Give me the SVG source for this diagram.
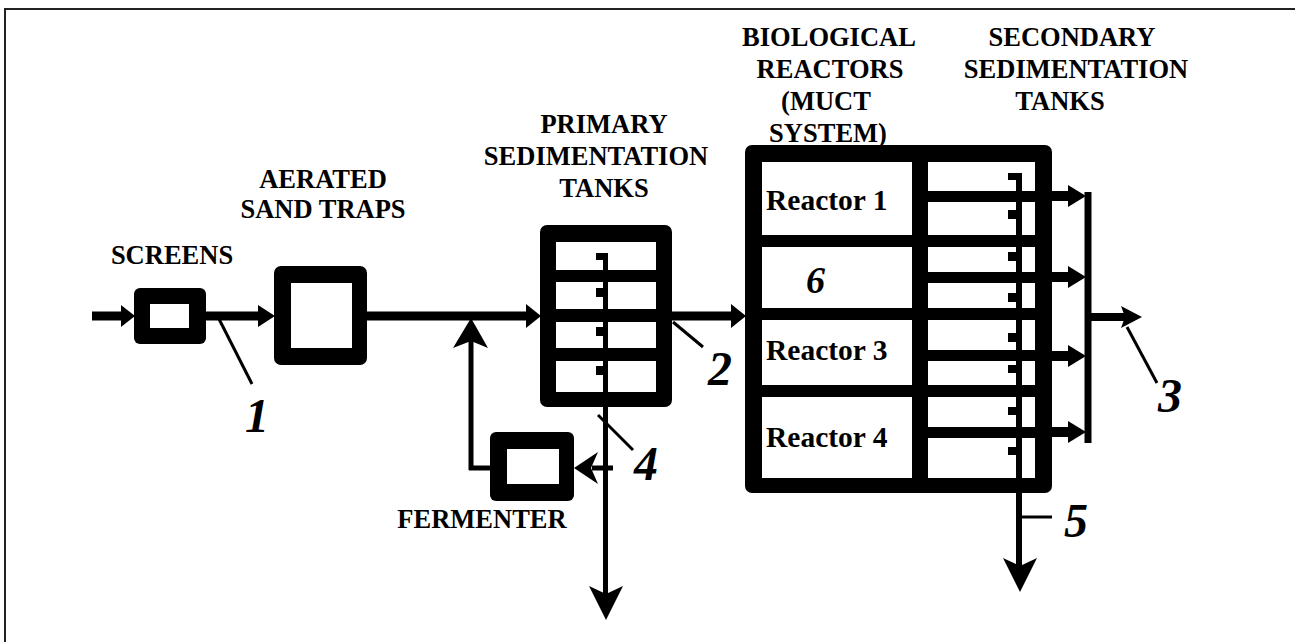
<svg xmlns="http://www.w3.org/2000/svg" width="1295" height="642" viewBox="0 0 1295 642">
<style>
.lbl{font-family:"Liberation Serif","Times New Roman",serif;font-weight:bold;font-size:26.5px;fill:#000;text-anchor:middle}
.rx{font-family:"Liberation Serif","Times New Roman",serif;font-weight:bold;font-size:29.5px;fill:#000}
.num{font-family:"Liberation Serif","Times New Roman",serif;font-weight:bold;font-style:italic;font-size:48px;fill:#000}
.blk{fill:#000}
.wht{fill:#fff}
.ln{stroke:#000;fill:none}
</style>
<rect width="1295" height="642" fill="#fff"/>
<path d="M5,642 V9 H1295" fill="none" stroke="#222" stroke-width="2"/>

<g id="screens">
<rect class="blk" x="134" y="288" width="72" height="56" rx="6"/>
<rect class="wht" x="150" y="304" width="39" height="24"/>
<text class="lbl" x="172" y="264">SCREENS</text>
</g>

<g id="sand-traps">
<rect class="blk" x="274" y="266" width="93" height="99" rx="7"/>
<rect class="wht" x="291" y="283" width="61" height="65"/>
<text class="lbl" x="323" y="188">AERATED</text>
<text class="lbl" x="323" y="218">SAND TRAPS</text>
</g>

<g id="primary-sedimentation">
<rect class="blk" x="540" y="225" width="132" height="182" rx="7"/>
<rect class="wht" x="556" y="242" width="100" height="28"/>
<rect class="wht" x="556" y="282" width="100" height="27"/>
<rect class="wht" x="556" y="322" width="100" height="26"/>
<rect class="wht" x="556" y="361" width="100" height="31"/>
<rect class="blk" x="603" y="253" width="5" height="154"/>
<rect class="blk" x="596" y="253" width="8" height="7"/>
<rect class="blk" x="596" y="288" width="8" height="9"/>
<rect class="blk" x="596" y="327" width="8" height="9"/>
<rect class="blk" x="596" y="366" width="8" height="9"/>
<text class="lbl" x="604" y="133">PRIMARY</text>
<text class="lbl" x="596" y="165">SEDIMENTATION</text>
<text class="lbl" x="604" y="197">TANKS</text>
</g>

<g id="fermenter">
<rect class="blk" x="490" y="432" width="84" height="69" rx="6"/>
<rect class="wht" x="507" y="449" width="52" height="35"/>
<text class="lbl" x="482" y="528">FERMENTER</text>
</g>

<g id="biological-reactors">
<rect class="blk" x="745" y="145" width="307" height="348" rx="7"/>
<rect class="wht" x="762" y="162" width="150" height="73"/>
<rect class="wht" x="762" y="247" width="150" height="61"/>
<rect class="wht" x="762" y="320" width="150" height="65"/>
<rect class="wht" x="762" y="397" width="150" height="81"/>
<text class="rx" x="766" y="210">Reactor 1</text>
<text class="num" x="806" y="293" style="font-size:38px">6</text>
<text class="rx" x="766" y="360">Reactor 3</text>
<text class="rx" x="766" y="447">Reactor 4</text>
<text class="lbl" x="829" y="46">BIOLOGICAL</text>
<text class="lbl" x="830" y="78">REACTORS</text>
<text class="lbl" x="826" y="110">(MUCT</text>
<text class="lbl" x="828" y="142">SYSTEM)</text>
</g>

<g id="secondary-sedimentation">
<rect class="wht" x="928" y="162" width="107" height="29"/>
<rect class="wht" x="928" y="202" width="107" height="33"/>
<rect class="wht" x="928" y="247" width="107" height="25"/>
<rect class="wht" x="928" y="283" width="107" height="25"/>
<rect class="wht" x="928" y="320" width="107" height="30"/>
<rect class="wht" x="928" y="361" width="107" height="24"/>
<rect class="wht" x="928" y="397" width="107" height="30"/>
<rect class="wht" x="928" y="438" width="107" height="40"/>
<rect class="blk" x="1016" y="173" width="6" height="320"/>
<rect class="blk" x="1008" y="173" width="9" height="7"/>
<rect class="blk" x="1008" y="210" width="9" height="9"/>
<rect class="blk" x="1008" y="252" width="9" height="9"/>
<rect class="blk" x="1008" y="293" width="9" height="9"/>
<rect class="blk" x="1008" y="333" width="9" height="9"/>
<rect class="blk" x="1008" y="365" width="9" height="8"/>
<rect class="blk" x="1008" y="407" width="9" height="8"/>
<rect class="blk" x="1008" y="447" width="9" height="8"/>
<text class="lbl" x="1072" y="46">SECONDARY</text>
<text class="lbl" x="1076" y="78">SEDIMENTATION</text>
<text class="lbl" x="1060" y="110">TANKS</text>
</g>

<g id="connectors">
<line class="ln" x1="92" y1="316" x2="124" y2="316" stroke-width="9"/>
<polygon class="blk" points="121,305 135,316 121,327"/>
<line class="ln" x1="206" y1="316" x2="260" y2="316" stroke-width="9"/>
<polygon class="blk" points="258,305 275,316 258,327"/>
<line class="ln" x1="367" y1="316" x2="528" y2="316" stroke-width="9"/>
<polygon class="blk" points="526,304 541,316 526,328"/>
<line class="ln" x1="672" y1="316" x2="733" y2="316" stroke-width="9"/>
<polygon class="blk" points="731,304 746,316 731,328"/>

<line class="ln" x1="1052" y1="196" x2="1070" y2="196" stroke-width="10"/>
<polygon class="blk" points="1068,185 1086,196 1068,207"/>
<line class="ln" x1="1052" y1="277" x2="1070" y2="277" stroke-width="10"/>
<polygon class="blk" points="1068,266 1086,277 1068,288"/>
<line class="ln" x1="1052" y1="356" x2="1070" y2="356" stroke-width="10"/>
<polygon class="blk" points="1068,345 1086,356 1068,367"/>
<line class="ln" x1="1052" y1="432" x2="1070" y2="432" stroke-width="10"/>
<polygon class="blk" points="1068,421 1086,432 1068,443"/>
<line class="ln" x1="1088" y1="192" x2="1088" y2="443" stroke-width="7"/>
<line class="ln" x1="1088" y1="317" x2="1125" y2="317" stroke-width="8"/>
<polygon class="blk" points="1121,306 1142,317 1121,328 1125,317"/>

<line class="ln" x1="605.5" y1="405" x2="605.5" y2="598" stroke-width="5"/>
<polygon class="blk" points="606,620 589,586 606,594 623,586"/>
<line class="ln" x1="613" y1="468" x2="592" y2="468" stroke-width="5"/>
<polygon class="blk" points="574,468 598,452 591,468 598,484"/>
<line class="ln" x1="490" y1="468" x2="469" y2="468" stroke-width="5"/>
<line class="ln" x1="471" y1="470" x2="471" y2="338" stroke-width="5"/>
<polygon class="blk" points="471,318 488,348 471,341 453,348"/>
<line class="ln" x1="1019" y1="490" x2="1019" y2="570" stroke-width="6"/>
<polygon class="blk" points="1020,592 1003,558 1020,566 1037,558"/>

<line class="ln" x1="218" y1="317" x2="252" y2="384" stroke-width="3"/>
<line class="ln" x1="673" y1="322" x2="703" y2="347" stroke-width="3"/>
<line class="ln" x1="598" y1="415" x2="633" y2="450" stroke-width="3"/>
<line class="ln" x1="1127" y1="327" x2="1157" y2="383" stroke-width="3"/>
<line class="ln" x1="1019" y1="517" x2="1052" y2="517" stroke-width="3"/>
</g>

<g id="labels">
<text class="num" x="245" y="432">1</text>
<text class="num" x="708" y="385">2</text>
<text class="num" x="1158" y="412">3</text>
<text class="num" x="634" y="480">4</text>
<text class="num" x="1064" y="537">5</text>
</g>
</svg>
